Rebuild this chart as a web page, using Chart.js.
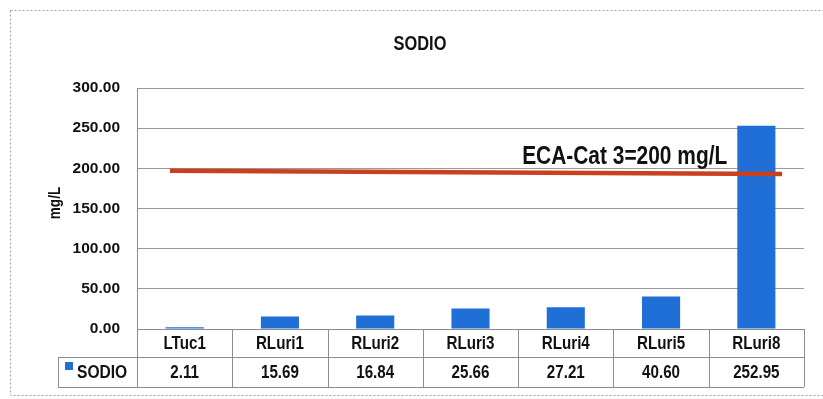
<!DOCTYPE html>
<html><head><meta charset="utf-8">
<script src="https://cdn.jsdelivr.net/npm/chart.js@4"></script>
<style>html,body{margin:0;padding:0;background:#fff}#wrap{width:823px;height:399px}</style>
</head><body><div id="wrap"><canvas id="c" width="823" height="399"></canvas></div>
<script>
const categories = ['LTuc1','RLuri1','RLuri2','RLuri3','RLuri4','RLuri5','RLuri8'];
const sodio = [2.11, 15.69, 16.84, 25.66, 27.21, 40.60, 252.95];
const valueLabels = ['2.11','15.69','16.84','25.66','27.21','40.60','252.95'];
const yTicks = [0, 50, 100, 150, 200, 250, 300];
const seriesName = 'SODIO';
const chartTitle = 'SODIO';
const yTitle = 'mg/L';
const limitLabel = 'ECA-Cat 3=200 mg/L';
const limitLine = [197, 193]; // drawn level at its left and right end, as read

function hasFont(name){
  const c = document.createElement('canvas').getContext('2d');
  const s = 'ECA-Cat 3=200 mg/L';
  c.font = 'bold 40px monospace'; const a = c.measureText(s).width;
  c.font = 'bold 40px "' + name + '", monospace'; const b = c.measureText(s).width;
  return a !== b;
}
const NARROW = hasFont('Liberation Sans Narrow');
const FAM = NARROW ? '"Liberation Sans Narrow", "Liberation Sans", Arial, sans-serif' : '"Liberation Sans", Arial, sans-serif';
const SX = NARROW ? 1 : 0.82;   // horizontal squeeze to imitate a narrow face
const TXT = '#111111';
const BAR = '#1F6FD6';
const RED = '#C8401E';
const LINE = '#8c8c8c';

function narrowText(ctx, text, x, y, size, align, baseline){
  ctx.save();
  ctx.translate(x, y);
  ctx.scale(SX, 1);
  ctx.font = 'bold ' + size + 'px ' + FAM;
  ctx.textAlign = align; ctx.textBaseline = baseline;
  ctx.fillText(text, 0, 0);
  ctx.restore();
}

const overlay = {
  id: 'overlay',
  afterDatasetsDraw(chart){
    const ctx = chart.ctx, xs = chart.scales.x, ys = chart.scales.y;
    const n = categories.length;
    const colW = (xs.right - xs.left) / n;
    ctx.save();
    const x0 = xs.getPixelForValue(0) - 0.155 * colW;
    const x1 = xs.getPixelForValue(n - 1) + 0.27 * colW;
    ctx.strokeStyle = RED; ctx.lineWidth = 4.5; ctx.lineCap = 'butt';
    ctx.beginPath();
    ctx.moveTo(x0, ys.getPixelForValue(limitLine[0]));
    ctx.lineTo(x1, ys.getPixelForValue(limitLine[1]));
    ctx.stroke();
    ctx.fillStyle = TXT;
    narrowText(ctx, limitLabel, xs.left + 4 * colW + 4, ys.getPixelForValue(206), 25.5, 'left', 'alphabetic');
    ctx.restore();
  },
  afterDraw(chart){
    const ctx = chart.ctx, xs = chart.scales.x, ca = chart.chartArea;
    const n = categories.length;
    const colW = (xs.right - xs.left) / n;
    ctx.save();
    ctx.strokeStyle = '#a0a0a0'; ctx.lineWidth = 1; ctx.setLineDash([2, 2]);
    ctx.strokeRect(10.5, 10.5, 830, 385);
    ctx.setLineDash([]);
    ctx.fillStyle = TXT;
    narrowText(ctx, chartTitle, 420, 44, 20, 'center', 'middle');
    // y axis title
    ctx.save();
    ctx.translate(55, 203);
    ctx.rotate(-Math.PI / 2);
    narrowText(ctx, yTitle, 0, 0, 16.5, 'center', 'middle');
    ctx.restore();
    // data table
    const top = ca.bottom, mid = top + 28, bot = top + 58, legL = 58;
    ctx.strokeStyle = LINE; ctx.lineWidth = 1;
    ctx.beginPath();
    ctx.moveTo(xs.left, top + 0.5); ctx.lineTo(xs.right, top + 0.5);
    ctx.moveTo(legL, mid + 0.5); ctx.lineTo(xs.right, mid + 0.5);
    ctx.moveTo(legL, bot + 0.5); ctx.lineTo(xs.right, bot + 0.5);
    ctx.moveTo(legL + 0.5, mid); ctx.lineTo(legL + 0.5, bot);
    for (let i = 0; i <= n; i++) {
      const x = Math.round(xs.left + i * colW) + 0.5;
      ctx.moveTo(x, top); ctx.lineTo(x, bot);
    }
    ctx.stroke();
    ctx.fillStyle = TXT;
    for (let i = 0; i < n; i++) {
      const cx = xs.getPixelForValue(i);
      narrowText(ctx, categories[i], cx, top + 15, 18.5, 'center', 'middle');
      narrowText(ctx, valueLabels[i], cx, mid + 16, 18.5, 'center', 'middle');
    }
    ctx.fillStyle = BAR;
    ctx.fillRect(65, mid + 5, 8, 8);
    ctx.fillStyle = TXT;
    narrowText(ctx, seriesName, 77, mid + 16, 19, 'left', 'middle');
    ctx.restore();
  }
};

new Chart(document.getElementById('c'), {
  type: 'bar',
  data: {
    labels: categories,
    datasets: [{ label: seriesName, data: sodio, backgroundColor: BAR, borderWidth: 0,
                 barPercentage: 0.4, categoryPercentage: 1.0 }]
  },
  options: {
    responsive: false, animation: false,
    layout: { padding: { left: 45, right: 19, top: 88, bottom: 70 } },
    plugins: { legend: { display: false }, title: { display: false }, tooltip: { enabled: false } },
    scales: {
      x: { display: false, offset: true },
      y: {
        min: 0, max: 300,
        afterBuildTicks: s => { s.ticks = yTicks.map(v => ({ value: v })); },
        afterFit: s => { s.width = 137 - 45; },
        ticks: { callback: v => Number(v).toFixed(2), color: TXT, padding: 17,
                 font: { family: FAM, size: NARROW ? 18 : 15.5, weight: 'bold' } },
        grid: { color: '#9a9a9a', drawTicks: false, lineWidth: 1 },
        border: { display: true, color: LINE },
        title: { display: false }
      }
    }
  },
  plugins: [overlay]
});
</script>
</body></html>
